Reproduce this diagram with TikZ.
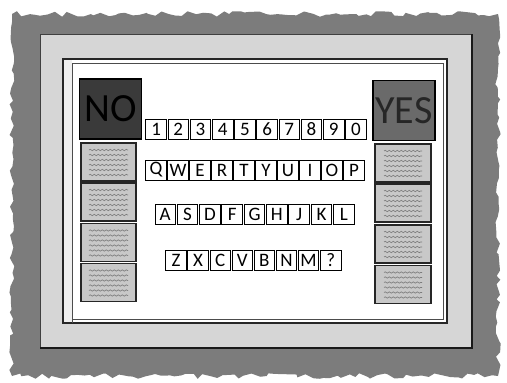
\documentclass[tikz,border=0pt]{standalone}
\usepackage{fontspec}
\setmainfont{Carlito}
\usetikzlibrary{decorations.pathmorphing}
\definecolor{blobc}{HTML}{7C7C7C}
\definecolor{framec}{HTML}{D6D6D6}
\definecolor{noc}{HTML}{3A3A3A}
\definecolor{yesc}{HTML}{6A6A6A}
\definecolor{cellc}{HTML}{C8C8C8}
\definecolor{scribc}{HTML}{7A7A7A}
\definecolor{stripc}{HTML}{EFEFEF}
\begin{document}
\begin{tikzpicture}[x=1pt,y=-1pt,
  keybox/.style={draw=black, line width=0.9pt, fill=white, minimum width=20.5pt,
    minimum height=20pt, inner sep=0pt, font=\fontsize{19}{19}\selectfont},
  cellbox/.style={draw=black!85, line width=1.3pt, fill=cellc, inner sep=0pt,
    minimum height=38pt},
  bigbox/.style={draw=black, line width=1.2pt, inner sep=0pt, minimum height=60pt,
    minimum width=62pt},
  scrib/.style={draw=scribc, line width=0.6pt, decorate,
    decoration={snake, amplitude=0.7pt, segment length=4pt}},
  bigtext/.style={font=\fontsize{40}{40}\selectfont}
]
\useasboundingbox (0,0) rectangle (507,383);
\pgfmathsetseed{11}
% rough grey background
\fill[blobc, decorate, decoration={random steps, segment length=6pt, amplitude=2.8pt}]
  (12,14) rectangle (498,376);
% frame
\fill[framec] (40,34) rectangle (472,348);
\draw[black!75, line width=0.8pt] (40,348) -- (40,34) -- (472,34);
\draw[black!90, line width=1.8pt] (472,34) -- (472,348) -- (40,348);
% board
\fill[white] (63,59) rectangle (447,323);
\fill[stripc] (63,59) rectangle (72,323);
\draw[black!85, line width=1.2pt] (63,59) rectangle (447,323);
\draw[black!70, line width=0.8pt] (72,323) -- (72,63) -- (443,63) -- (443,319) -- (72,319);
% NO / YES
\node[bigbox, fill=noc] (no) at (110.5,109) {};
\node[bigbox, fill=yesc] (yes) at (404,110.5) {};
\node[bigtext, text=black] (notext) at (no.center) {NO};
\node[bigtext, text=black!85] (yestext) at (yes.center) {YES};
% side cells
\foreach \y [count=\i] in {162,202,242.5,282.5}{
  \node[cellbox, minimum width=55pt] (l\i) at (108.5,\y) {};
  \foreach \k in {-12,-7,-2,3,8,13}{
    \draw[scrib] (89,\y+\k) -- (128,\y+\k);
  }
}
\foreach \y [count=\i] in {163,203,244,284.5}{
  \node[cellbox, minimum width=56pt] (r\i) at (403,\y) {};
  \foreach \k in {-12,-7,-2,3,8,13}{
    \draw[scrib] (384,\y+\k) -- (422,\y+\k);
  }
}
% keys
\foreach \c [count=\i from 0] in {1,2,3,4,5,6,7,8,9,0}
  \node[keybox] (n\i) at (156.1+22.2*\i,129) {\c};
\foreach \c [count=\i from 0] in {Q,W,E,R,T,Y,U,I,O,P}
  \node[keybox] (q\i) at (156+22*\i,170) {\c};
\foreach \c [count=\i from 0] in {A,S,D,F,G,H,J,K,L}
  \node[keybox] (a\i) at (165.2+22.33*\i,214.5) {\c};
\foreach \c [count=\i from 0] in {Z,X,C,V,B,N,M,?}
  \node[keybox] (z\i) at (176+22.1*\i,260) {\c};
\end{tikzpicture}
\end{document}
